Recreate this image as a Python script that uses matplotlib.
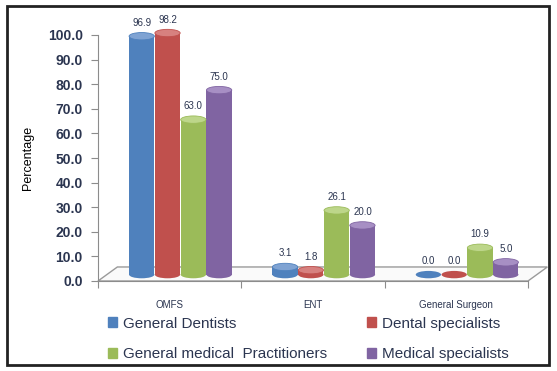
import matplotlib
matplotlib.use("Agg")
import matplotlib.pyplot as plt
from matplotlib.patches import Ellipse, Polygon, Rectangle
import numpy as np

plt.rcParams['font.family'] = ['Liberation Sans', 'DejaVu Sans']

categories = ["OMFS", "ENT", "General Surgeon"]
series = ["General Dentists", "Dental specialists",
          "General medical  Practitioners", "Medical specialists"]
values = {
    "General Dentists": [96.9, 3.1, 0.0],
    "Dental specialists": [98.2, 1.8, 0.0],
    "General medical  Practitioners": [63.0, 26.1, 10.9],
    "Medical specialists": [75.0, 20.0, 5.0],
}
yticks = [0, 10, 20, 30, 40, 50, 60, 70, 80, 90, 100]

COLORS = ["#4F81BD", "#C0504D", "#9BBB59", "#8064A2"]
TOPS = ["#7FA3D3", "#D7817F", "#BDD68A", "#A78FC4"]
TXT = "#2b3550"

fig = plt.figure(figsize=(5.57, 3.71), dpi=100)
fig.patches.append(Rectangle((0.013, 0.016), 0.973, 0.968, transform=fig.transFigure,
                             fill=False, edgecolor="#222222", lw=2.0))
ax = fig.add_axes([98/557, 1-281/371, 430/557, 246/371])
ax.set_xlim(-0.5, 2.5); ax.set_ylim(0, 100)

# 3D floor (back offset)
fdx, fdy = 0.135, 5.7
floor = Polygon([(-0.5, 0), (2.5, 0), (2.5 + fdx, fdy), (-0.5 + fdx, fdy)], closed=True,
                facecolor="#fafafa", edgecolor="#9a9a9a", lw=1.0, clip_on=False, zorder=1)
ax.add_patch(floor)

# cylinders
bw = 0.18; bdx, bdy = 0.075, 2.6; cap = 3.0
x = np.arange(len(categories))
for i, s in enumerate(series):
    xs = x + (i - 1.5) * bw + bdx
    for xc, v in zip(xs, values[s]):
        ax.add_patch(Ellipse((xc, bdy), bw * 0.98, cap, facecolor=COLORS[i],
                             edgecolor="none", zorder=3 + i * 0.01, clip_on=False))
        if v > 0:
            ax.bar(xc, v, bw * 0.98, bottom=bdy, color=COLORS[i], zorder=3 + i * 0.01,
                   edgecolor="none", clip_on=False)
            ax.add_patch(Ellipse((xc, bdy + v), bw * 0.98, cap, facecolor=TOPS[i],
                                 edgecolor=COLORS[i], lw=0.6, zorder=3.5 + i * 0.01,
                                 clip_on=False))
        ax.text(xc, bdy + v + 5.5, f"{v:.1f}", ha="center", va="center",
                fontsize=7, color=TXT, zorder=6, clip_on=False)

# axes styling
for sp in ("top", "right"):
    ax.spines[sp].set_visible(False)
ax.spines["left"].set_color("#8c8c8c"); ax.spines["bottom"].set_color("#8c8c8c")
ax.set_yticks(yticks)
ax.set_yticklabels([f"{t:.1f}" for t in yticks], fontsize=10, fontweight="bold", color=TXT)
ax.tick_params(axis="y", length=5, color="#8c8c8c", pad=6)
ax.set_xticks([-0.5, 0.5, 1.5, 2.5], minor=False)
ax.set_xticklabels([])
ax.set_xticks(x, minor=True)
ax.set_xticklabels(categories, minor=True, fontsize=7, color=TXT)
ax.tick_params(axis="x", which="major", length=5, color="#8c8c8c")
ax.tick_params(axis="x", which="minor", length=0, pad=14)
ax.set_ylabel("Percentage", fontsize=9, color="black", labelpad=10)
ax.patch.set_alpha(0)

# legend (row-major order: matplotlib fills columns first)
handles = [Rectangle((0, 0), 1, 1, color=c) for c in COLORS]
order = [0, 2, 1, 3]
fig.legend([handles[k] for k in order], [series[k] for k in order],
           loc="center left", bbox_to_anchor=(108/557, 1 - 339/371), ncol=2,
           fontsize=11, frameon=False, handlelength=0.6, handleheight=0.6,
           handletextpad=0.4, columnspacing=2.6, labelspacing=1.1, labelcolor=TXT,
           borderpad=0, borderaxespad=0)

fig.savefig("out.png", dpi=100)
